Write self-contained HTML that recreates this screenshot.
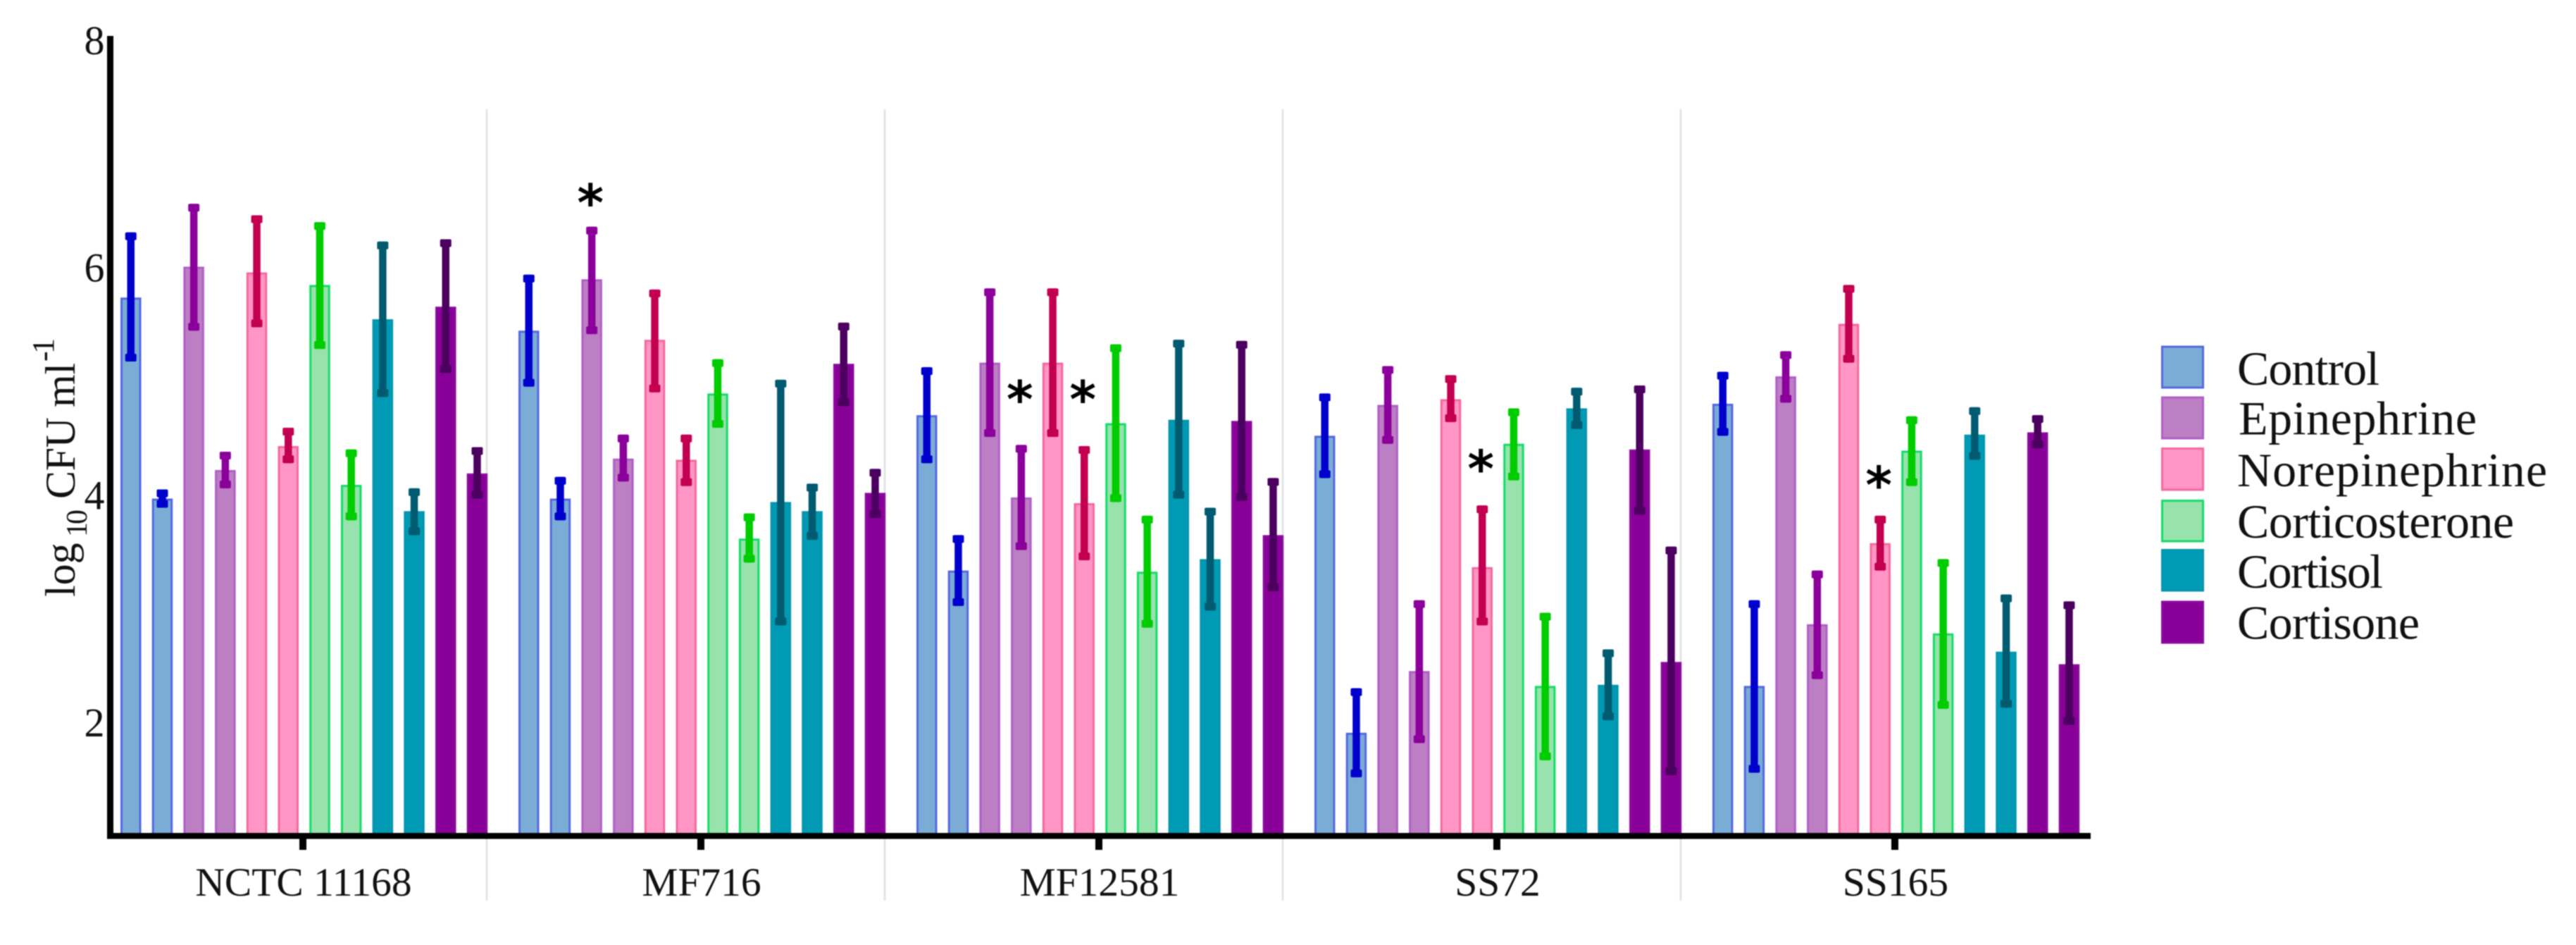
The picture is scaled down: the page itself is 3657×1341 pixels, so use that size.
<!DOCTYPE html>
<html>
<head>
<meta charset="utf-8">
<title>log10 CFU per ml by strain and treatment</title>
<style>
html,body{margin:0;padding:0;background:#fff;}
#chart{display:block;width:3657px;height:1341px;filter:blur(0.7px);}
text{font-family:"Liberation Serif",serif;fill:#111;}
</style>
</head>
<body>
<svg id="chart" xmlns="http://www.w3.org/2000/svg" width="3657" height="1341" viewBox="0 0 3657 1341">
  <rect width="3657" height="1341" fill="#fff"/>
  <g id="separators"></g>
  <g id="bars"></g>
  <g id="errors"></g>
  <g id="axes"></g>
  <g id="stars"></g>
  <text transform="translate(106,847) rotate(-90)" font-size="60"><tspan x="0">log</tspan><tspan x="85" dy="17" font-size="42" textLength="39">10</tspan><tspan x="139" dy="-17" textLength="193">CFU ml</tspan><tspan x="334" dy="-30" font-size="44" textLength="33">-1</tspan></text>
  <g>
    <g>
      <rect x="3069.5" y="492" width="58" height="58" fill="#7bacd6" stroke="#5468e0" stroke-width="3"/>
      <text x="3176" y="546" font-size="68" textLength="202">Control</text>
    </g>
    <g>
      <rect x="3069.5" y="564" width="58" height="58" fill="#bd7fc3" stroke="#ae5ec8" stroke-width="3"/>
      <text x="3178" y="616.5" font-size="68" textLength="338">Epinephrine</text>
    </g>
    <g>
      <rect x="3069.5" y="636.5" width="58" height="58.5" fill="#ff96c5" stroke="#f5689f" stroke-width="3"/>
      <text x="3176" y="690" font-size="68" textLength="440">Norepinephrine</text>
    </g>
    <g>
      <rect x="3069.5" y="710.5" width="58" height="57.5" fill="#98e2ae" stroke="#14dc68" stroke-width="3"/>
      <text x="3176" y="763" font-size="68" textLength="393">Corticosterone</text>
    </g>
    <g>
      <rect x="3069.5" y="780.5" width="58" height="57.5" fill="#009ab5" stroke="#0396ad" stroke-width="3"/>
      <text x="3176" y="834" font-size="68" textLength="207">Cortisol</text>
    </g>
    <g>
      <rect x="3069.5" y="854" width="58" height="58" fill="#880098" stroke="#8a0a9c" stroke-width="3"/>
      <text x="3176" y="906.5" font-size="68" textLength="259">Cortisone</text>
    </g>
  </g>
</svg>
<script>
// Categories and tick labels
const strains = ["NCTC 11168", "MF716", "MF12581", "SS72", "SS165"];
const treatments = ["control", "epinephrine", "norepinephrine", "corticosterone", "cortisol", "cortisone"];
const yTicks = [2, 4, 6, 8];

// Each strain has two bars per treatment, in treatment order
const nctcMeans = [5.71, 3.95, 5.98, 4.20, 5.93, 4.41, 5.82, 4.07, 5.52, 3.84, 5.63, 4.17];
const nctcHigh  = [6.28, 4.03, 6.53, 4.36, 6.43, 4.57, 6.37, 4.38, 6.20, 4.04, 6.22, 4.40];
const nctcLow   = [5.15, 3.87, 5.42, 4.04, 5.45, 4.26, 5.26, 3.76, 4.84, 3.63, 5.05, 3.95];

const mf716Means = [5.42, 3.95, 5.87, 4.30, 5.34, 4.29, 4.87, 3.60, 3.92, 3.84, 5.13, 4.00];
const mf716High  = [5.91, 4.14, 6.33, 4.51, 5.78, 4.51, 5.17, 3.82, 4.99, 4.08, 5.49, 4.21];
const mf716Low   = [4.93, 3.76, 5.39, 4.10, 4.88, 4.06, 4.57, 3.39, 2.84, 3.59, 4.76, 3.78];

const mf12581Means = [4.68, 3.32, 5.14, 3.96, 5.14, 3.91, 4.61, 3.31, 4.64, 3.42, 4.63, 3.63];
const mf12581High  = [5.10, 3.63, 5.79, 4.42, 5.79, 4.41, 5.30, 3.80, 5.34, 3.87, 5.33, 4.13];
const mf12581Low   = [4.26, 3.01, 4.49, 3.50, 4.49, 3.41, 3.92, 2.82, 3.95, 2.97, 3.93, 3.14];

const ss72Means = [4.50, 1.90, 4.77, 2.44, 4.82, 3.35, 4.43, 2.31, 4.74, 2.32, 4.38, 2.52];
const ss72High  = [4.87, 2.29, 5.11, 3.06, 5.03, 3.89, 4.74, 2.95, 4.92, 2.63, 4.94, 3.53];
const ss72Low   = [4.13, 1.51, 4.43, 1.81, 4.62, 2.84, 4.11, 1.66, 4.56, 2.01, 3.81, 1.53];

const ss165Means = [4.78, 2.31, 5.02, 2.85, 5.48, 3.56, 4.37, 2.77, 4.51, 2.61, 4.53, 2.50];
const ss165High  = [5.06, 3.06, 5.24, 3.32, 5.82, 3.80, 4.67, 3.42, 4.75, 3.11, 4.68, 3.05];
const ss165Low   = [4.50, 1.55, 4.79, 2.37, 5.14, 3.32, 4.06, 2.11, 4.29, 2.12, 4.39, 1.97];

// Significance markers: strain index, bar index, height in axis units
const starStrains = [1, 2, 2, 3, 4];
const starBars    = [2, 3, 5, 5, 5];
const starValues  = [6.60, 4.88, 4.88, 4.27, 4.13];

const allMeans = [nctcMeans, mf716Means, mf12581Means, ss72Means, ss165Means];
const allHigh  = [nctcHigh, mf716High, mf12581High, ss72High, ss165High];
const allLow   = [nctcLow, mf716Low, mf12581Low, ss72Low, ss165Low];

// Treatment styling (parallel to treatments)
const fills   = ["#7bacd6", "#bd7fc3", "#ff96c5", "#98e2ae", "#009ab5", "#880098"];
const strokes = ["#5468e0", "#ae5ec8", "#f5689f", "#14dc68", "#0396ad", "#8a0a9c"];
const errCols = ["#0000cc", "#8b009b", "#c2004f", "#00cc00", "#005a70", "#4b0060"];

const NS = "http://www.w3.org/2000/svg";
function make(tag, parent, props) {
  const el = document.createElementNS(NS, tag);
  for (const k in props) el.setAttribute(k, props[k]);
  parent.appendChild(el);
  return el;
}

// Axis functions
function yPos(v) { return 51 + (8 - v) * 162.1; }
function yLabelBaseline(v) { return 1045 - (v - 2) * 161.33; }
function groupX(g) { return 171 + g * 565; }
function barX(g, b) { return groupX(g) + b * 44.7; }
const barW = 29.5;
function barCenter(g, b) { return barX(g, b) + barW / 2; }
function tickX(g) { return groupX(g) + 259; }
function sepX(g) { return groupX(g) + 520; }
const baseY = yPos(1);

const sepLayer = document.getElementById("separators");
const barLayer = document.getElementById("bars");
const errLayer = document.getElementById("errors");
const axisLayer = document.getElementById("axes");
const starLayer = document.getElementById("stars");

// Separators between strains
strains.slice(0, -1).forEach(function (s, g) {
  const sep = make("line", sepLayer, {x1: sepX(g), x2: sepX(g), y1: 155, y2: 1278, stroke: "#dfdfe6", "stroke-width": 2.5});
  
  
});

// Bars and error bars
strains.forEach(function (strain, g) {
  allMeans[g].forEach(function (mean, b) {
    const t = Math.floor(b / 2);
    const top = yPos(mean);
    const bar = make("rect", barLayer, {
      x: barX(g, b) + 1.5, y: top + 1.5, width: barW - 3, height: baseY - top - 1.5,
      fill: fills[t], stroke: strokes[t], "stroke-width": 3
    });
    
    

    const hi = yPos(allHigh[g][b]);
    const lo = yPos(allLow[g][b]);
    const cx = barCenter(g, b);
    const err = make("g", errLayer, {fill: errCols[t]});
    
    
    make("rect", err, {x: cx - 5.25, y: hi, width: 10.5, height: lo - hi});
    make("rect", err, {x: cx - 8, y: hi, width: 16, height: 11, rx: 2});
    make("rect", err, {x: cx - 8, y: lo - 11, width: 16, height: 11, rx: 2});
  });
});

// Y axis
const yLine = make("rect", axisLayer, {x: 152, y: yPos(8), width: 9, height: 1190 - yPos(8), fill: "#000"});


yTicks.forEach(function (v) {
  const lab = make("text", axisLayer, {x: 148.5, y: yLabelBaseline(v), "text-anchor": "end", "font-size": 58});
  lab.textContent = String(v);
  
  
});

// X axis
const xLine = make("rect", axisLayer, {x: 152, y: 1182, width: 2816, height: 8.5, fill: "#000"});


strains.forEach(function (strain, g) {
  const tick = make("rect", axisLayer, {x: tickX(g) - 5, y: 1188, width: 10, height: 18, fill: "#000"});
  
  
  const lab = make("text", axisLayer, {x: tickX(g) + 1, y: 1271, "text-anchor": "middle", "font-size": 57.5});
  lab.textContent = strain;
  
  
});

// Significance asterisks
starStrains.forEach(function (g, i) {
  const star = make("text", starLayer, {
    x: barCenter(g, starBars[i]) - 2, y: yPos(starValues[i]) + 35,
    "text-anchor": "middle", "font-size": 72, "font-weight": "bold",
    style: 'font-family:"DejaVu Sans",sans-serif;fill:#000'
  });
  star.textContent = "*";
  
  
});
</script>
</body>
</html>
